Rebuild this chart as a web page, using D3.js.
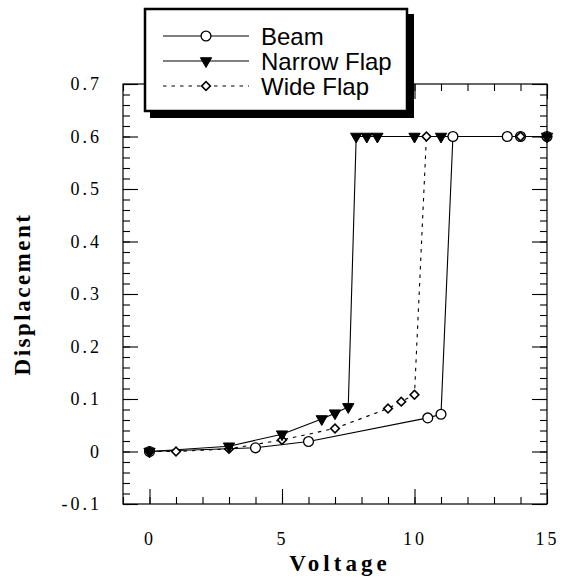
<!DOCTYPE html>
<html><head><meta charset="utf-8">
<script src="https://cdn.jsdelivr.net/npm/d3@7"></script>
<style>body{margin:0;background:#fff}svg{display:block}</style>
</head><body>
<svg id="c" width="564" height="579"></svg>
<script>
// ---- data ----
const seriesNames = ["Beam", "Narrow Flap", "Wide Flap"];
const beamV = [0, 4, 6, 10.5, 11, 11.45, 13.5, 14, 15];
const beamD = [0, 0.007, 0.019, 0.064, 0.071, 0.6, 0.6, 0.6, 0.6];
const narrowV = [0, 3, 5, 6.5, 7, 7.5, 7.8, 8.2, 8.6, 10, 11, 15];
const narrowD = [0, 0.01, 0.033, 0.062, 0.073, 0.085, 0.6, 0.6, 0.6, 0.6, 0.6, 0.6];
const wideV = [0, 1, 3, 5, 7, 9, 9.5, 10, 10.45, 14, 15];
const wideD = [0, 0, 0.005, 0.022, 0.044, 0.082, 0.095, 0.108, 0.6, 0.6, 0.6];
const xMajor = [0, 5, 10, 15];
const xMinor = [-1,0,1,2,3,4,5,6,7,8,9,10,11,12,13,14,15];
const yMajor = [-0.1, 0, 0.1, 0.2, 0.3, 0.4, 0.5, 0.6, 0.7];
const yLabels = ["-0.1", "0", "0.1", "0.2", "0.3", "0.4", "0.5", "0.6", "0.7"];
const xLabels = ["0", "5", "10", "15"];
const yMinor = d3.range(-0.1, 0.7001, 0.02).map(v => +v.toFixed(2));

const svg = d3.select("#c");
const L = 123, R = 547, T = 84, B = 504;
const x = d3.scaleLinear().domain([-1, 15]).range([L, R]);
const y = d3.scaleLinear().domain([-0.1, 0.7]).range([B, T]);

const serif = "'Liberation Serif','Times New Roman',serif";
const sans = "'Liberation Sans',Arial,sans-serif";

// frame
svg.append("rect").attr("x", L).attr("y", T).attr("width", R - L).attr("height", B - T)
  .attr("fill", "none").attr("stroke", "#000").attr("stroke-width", 1.2);

function styleAxis(g) {
  g.select(".domain").remove();
  g.selectAll(".tick line").attr("stroke", "#000").attr("stroke-width", 1.1);
}
// minor ticks
svg.append("g").attr("transform", `translate(${L},0)`)
  .call(d3.axisLeft(y).tickValues(yMinor).tickSize(-7).tickFormat("")).call(styleAxis);
svg.append("g").attr("transform", `translate(${R},0)`)
  .call(d3.axisRight(y).tickValues(yMinor).tickSize(-7).tickFormat("")).call(styleAxis);
svg.append("g").attr("transform", `translate(0,${B})`)
  .call(d3.axisBottom(x).tickValues(xMinor).tickSize(-7).tickFormat("")).call(styleAxis);
svg.append("g").attr("transform", `translate(0,${T})`)
  .call(d3.axisTop(x).tickValues(xMinor).tickSize(-7).tickFormat("")).call(styleAxis);
// major ticks + labels
const yl = svg.append("g").attr("transform", `translate(${L},0)`)
  .call(d3.axisLeft(y).tickValues(yMajor).tickSize(-15).tickPadding(21)
    .tickFormat((d, i) => yLabels[i])).call(styleAxis);
yl.selectAll("text").attr("font-family", serif).attr("font-size", 18)
  .attr("letter-spacing", 3).attr("fill", "#000");
svg.append("g").attr("transform", `translate(${R},0)`)
  .call(d3.axisRight(y).tickValues(yMajor).tickSize(-15).tickFormat("")).call(styleAxis);
const xl = svg.append("g").attr("transform", `translate(0,${B})`)
  .call(d3.axisBottom(x).tickValues(xMajor).tickSize(-15).tickPadding(28)
    .tickFormat((d, i) => xLabels[i])).call(styleAxis);
xl.selectAll("text").attr("font-family", serif).attr("font-size", 18)
  .attr("letter-spacing", 3).attr("fill", "#000");
svg.append("g").attr("transform", `translate(0,${T})`)
  .call(d3.axisTop(x).tickValues(xMajor).tickSize(-15).tickFormat("")).call(styleAxis);

// axis titles
svg.append("text").attr("x", 340).attr("y", 571).attr("text-anchor", "middle")
  .attr("font-family", serif).attr("font-weight", "bold").attr("font-size", 23)
  .attr("letter-spacing", 4).text("Voltage");
svg.append("text").attr("transform", "translate(30,294) rotate(-90)").attr("text-anchor", "middle")
  .attr("font-family", serif).attr("font-weight", "bold").attr("font-size", 23)
  .attr("letter-spacing", 2.5).text("Displacement");

// series
const series = [
  {name: seriesNames[0], v: beamV, d: beamD, dash: null, sym: "circle"},
  {name: seriesNames[1], v: narrowV, d: narrowD, dash: null, sym: "tri"},
  {name: seriesNames[2], v: wideV, d: wideD, dash: "3.5,5", sym: "dia"}
];
const line = d3.line().x(p => x(p[0])).y(p => y(p[1]));
function drawSym(g, sym) {
  if (sym === "circle") {
    g.append("path").attr("d", d3.symbol(d3.symbolCircle, 76)())
      .attr("fill", "#fff").attr("stroke", "#000").attr("stroke-width", 1.3);
  } else if (sym === "tri") {
    g.append("path").attr("d", d3.symbol(d3.symbolTriangle, 55)())
      .attr("transform", "rotate(180)").attr("fill", "#000").attr("stroke", "#000").attr("stroke-width", 1);
  } else {
    g.append("path").attr("d", d3.symbol(d3.symbolSquare, 38)())
      .attr("transform", "rotate(45)").attr("fill", "#fff").attr("stroke", "#000").attr("stroke-width", 1.6);
  }
}
const plot = svg.append("g");
series.forEach(s => {
  const pts = s.v.map((v, i) => [v, s.d[i]]);
  plot.append("path").datum(pts).attr("d", line).attr("fill", "none")
    .attr("stroke", "#000").attr("stroke-width", 1.1)
    .attr("stroke-dasharray", s.dash);
});
// markers drawn: circles, diamonds, then triangles on top
[series[0], series[2], series[1]].forEach(s => {
  s.v.forEach((v, i) => {
    const g = plot.append("g").attr("transform", `translate(${x(v)},${y(s.d[i])})`);
    drawSym(g, s.sym);
  });
});

// legend
const lg = svg.append("g");
lg.append("rect").attr("x", 150).attr("y", 14).attr("width", 264).attr("height", 104).attr("fill", "#000");
lg.append("rect").attr("x", 145).attr("y", 9).attr("width", 262).attr("height", 102)
  .attr("fill", "#fff").attr("stroke", "#000").attr("stroke-width", 2.5);
const ly = [36, 61, 86];
series.forEach((s, i) => {
  lg.append("line").attr("x1", 163).attr("x2", 249).attr("y1", ly[i]).attr("y2", ly[i])
    .attr("stroke", "#000").attr("stroke-width", 1.1).attr("stroke-dasharray", s.dash);
  const g = lg.append("g").attr("transform", `translate(206,${ly[i]})`);
  drawSym(g, s.sym);
  lg.append("text").attr("x", 261).attr("y", ly[i] + 8.5).attr("font-family", sans)
    .attr("font-size", 24).text(s.name);
});
</script>
</body></html>
